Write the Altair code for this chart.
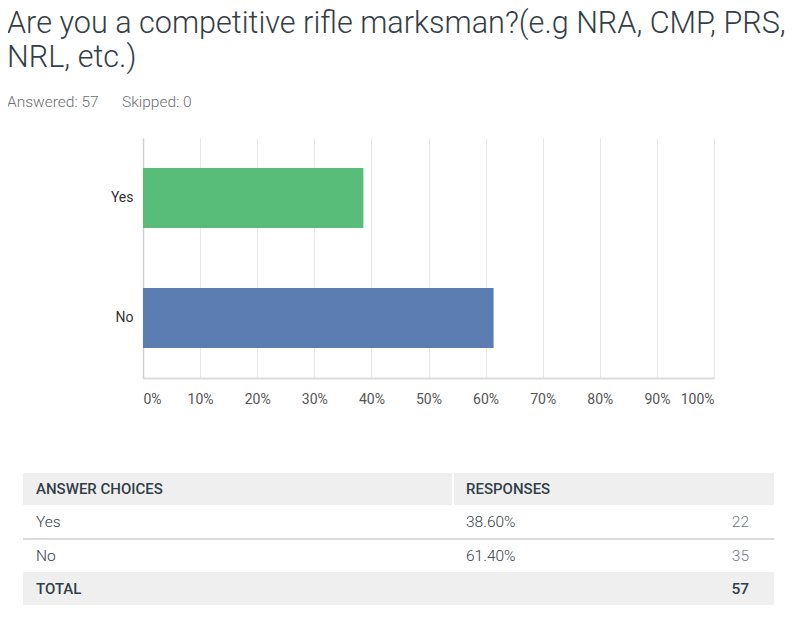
import altair as alt
import pandas as pd

# ---- data ----
answers = ["Yes", "No"]
shares = [0.386, 0.614]
counts = [22, 35]
pct_labels = ["38.60%", "61.40%"]
total_label = "TOTAL"
total_count = 57
bar_colors = ["#57BD78", "#5B7DB1"]
title_lines = ["Are you a competitive rifle marksman?(e.g NRA, CMP, PRS,", "NRL, etc.)"]
answered_text = "Answered: 57"
skipped_text = "Skipped: 0"
header_labels = ["ANSWER CHOICES", "RESPONSES"]
x_ticks = [0, 0.1, 0.2, 0.3, 0.4, 0.5, 0.6, 0.7, 0.8, 0.9, 1.0]

FONT = "Roboto"
DARK = "#333E48"

# page geometry (view origin at page x=143, y=138)
OX, OY = 143, 138
W, H = 571, 240

def px(x):
    return x - OX

def py(y):
    return y - OY

bars_df = pd.DataFrame({"answer": answers, "share": shares})

bars = alt.Chart(bars_df).mark_bar().encode(
    y=alt.Y("answer:N", sort=answers, title=None,
            scale=alt.Scale(paddingInner=0.5, paddingOuter=0.25),
            axis=alt.Axis(labelFont=FONT, labelFontSize=14, labelColor="#333333",
                          labelPadding=10, ticks=False, domainColor="#D0D0D0",
                          domainWidth=1.5, grid=False)),
    x=alt.X("share:Q", title=None, scale=alt.Scale(domain=[0, 1]),
            axis=alt.Axis(values=x_ticks, format=".0%", labelFont=FONT, labelFontSize=14,
                          labelColor="#555555", labelPadding=14, labelFlush=True,
                          ticks=False, domainColor="#DCDCDC", domainWidth=2,
                          grid=True, gridColor="#E8E8E8", gridWidth=1)),
    color=alt.Color("answer:N", scale=alt.Scale(domain=answers, range=bar_colors), legend=None),
)

layers = [bars]

# title lines
title_df = pd.DataFrame({"t": title_lines, "i": [0, 1]})
for i, yb in enumerate([33, 67]):
    layers.append(
        alt.Chart(title_df).transform_filter(alt.datum.i == i).mark_text(
            align="left", baseline="alphabetic", font=FONT, fontSize=30.6,
            fontWeight=300, color=DARK
        ).encode(text="t:N", x=alt.value(px(7)), y=alt.value(py(yb)))
    )

meta_df = pd.DataFrame({"t": [answered_text, skipped_text], "i": [0, 1]})
for i, xl in enumerate([7, 122]):
    layers.append(
        alt.Chart(meta_df).transform_filter(alt.datum.i == i).mark_text(
            align="left", baseline="alphabetic", font=FONT, fontSize=15.5,
            fontWeight=300, color="#6D6E71"
        ).encode(text="t:N", x=alt.value(px(xl)), y=alt.value(py(107)))
    )

# table backgrounds
TL, TR = 23, 774
for (y0, y1) in [(473, 505), (572, 605)]:
    layers.append(
        alt.Chart(bars_df).mark_rect(color="#EFEFEF").encode(
            x=alt.value(px(TL)), x2=alt.value(px(TR)),
            y=alt.value(py(y0)), y2=alt.value(py(y1)))
    )
# header separator (white)
layers.append(
    alt.Chart(bars_df).mark_rule(color="white", strokeWidth=2).encode(
        x=alt.value(px(453)), y=alt.value(py(473)), y2=alt.value(py(505)))
)
# row separator
layers.append(
    alt.Chart(bars_df).mark_rule(color="#D9D9D9", strokeWidth=1.5).encode(
        x=alt.value(px(TL)), x2=alt.value(px(TR)), y=alt.value(py(539)))
)

# header text
hdr_df = pd.DataFrame({"t": header_labels, "i": [0, 1]})
for i, xl in enumerate([36, 466]):
    layers.append(
        alt.Chart(hdr_df).transform_filter(alt.datum.i == i).mark_text(
            align="left", baseline="middle", font=FONT, fontSize=15,
            fontWeight=500, color=DARK
        ).encode(text="t:N", x=alt.value(px(xl)), y=alt.value(py(489)))
    )

# rows
rows_df = pd.DataFrame({"answer": answers, "pct": pct_labels, "count": counts, "i": [0, 1]})
for i, yc in enumerate([522, 556]):
    base = alt.Chart(rows_df).transform_filter(alt.datum.i == i)
    layers.append(base.mark_text(align="left", baseline="middle", font=FONT, fontSize=15.5,
                                 fontWeight=300, color=DARK)
                  .encode(text="answer:N", x=alt.value(px(36)), y=alt.value(py(yc))))
    layers.append(base.mark_text(align="left", baseline="middle", font=FONT, fontSize=15.5,
                                 fontWeight=300, color=DARK)
                  .encode(text="pct:N", x=alt.value(px(466)), y=alt.value(py(yc))))
    layers.append(base.mark_text(align="right", baseline="middle", font=FONT, fontSize=15.5,
                                 fontWeight=300, color="#6B787F")
                  .encode(text="count:Q", x=alt.value(px(749)), y=alt.value(py(yc))))

tot_df = pd.DataFrame({"t": [total_label], "n": [total_count]})
layers.append(alt.Chart(tot_df).mark_text(align="left", baseline="middle", font=FONT,
                                         fontSize=15, fontWeight=500, color=DARK)
              .encode(text="t:N", x=alt.value(px(36)), y=alt.value(py(589))))
layers.append(alt.Chart(tot_df).mark_text(align="right", baseline="middle", font=FONT,
                                         fontSize=15.5, fontWeight=500, color=DARK)
              .encode(text="n:Q", x=alt.value(px(749)), y=alt.value(py(589))))

chart = alt.layer(*layers).properties(
    width=W, height=H,
    autosize=alt.AutoSizeParams(type="none"),
    padding={"left": OX - 8, "top": OY - 8, "right": 784 - (OX - 8) - W, "bottom": 600 - (OY - 8) - H},
).configure_view(stroke=None)

chart.save("out.html", embed_options={"renderer": "svg", "actions": False})
